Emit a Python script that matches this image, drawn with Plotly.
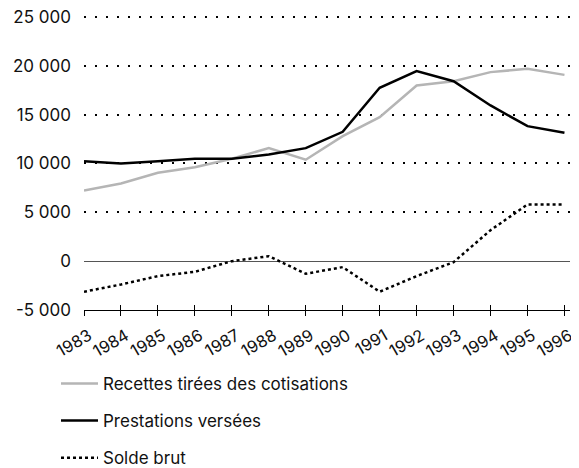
import plotly.graph_objects as go

years = list(range(1983, 1997))
recettes = [7240, 7950, 9050, 9620, 10480, 11570, 10380, 12800, 14740, 17980, 18420, 19350, 19690, 19070]
prestations = [10230, 10000, 10230, 10480, 10480, 10920, 11570, 13240, 17750, 19450, 18420, 15940, 13820, 13140]
solde = [-3130, -2390, -1530, -1090, 0, 510, -1290, -610, -3130, -1530, -100, 3170, 5800, 5800]

names = ["Recettes tirées des cotisations", "Prestations versées", "Solde brut"]
ytickvals = [-5000, 0, 5000, 10000, 15000, 20000, 25000]
yticktext = ["-5 000", "0", "5 000", "10 000", "15 000", "20 000", "25 000"]

FONT = "Inter, Roboto, sans-serif"

fig = go.Figure()
fig.add_trace(go.Scatter(x=years, y=recettes, name=names[0], mode="lines",
                         line=dict(color="#b5b5b5", width=2.5), legendgroup="a"))
fig.add_trace(go.Scatter(x=years, y=prestations, name=names[1], mode="lines",
                         line=dict(color="#000000", width=2.5), legendgroup="b"))
fig.add_trace(go.Scatter(x=years, y=solde, name=names[2], mode="lines",
                         line=dict(color="#000000", width=2.5, dash="dot"), legendgroup="c"))
# invisible trace for the inner tick marks axis
fig.add_trace(go.Scatter(x=years, y=solde, xaxis="x2", mode="lines",
                         line=dict(width=0), showlegend=False, hoverinfo="skip", opacity=0))

fig.update_layout(
    width=571, height=460,
    margin=dict(l=76, r=9, t=6, b=158, autoexpand=False),
    paper_bgcolor="white", plot_bgcolor="white",
    font=dict(family=FONT, size=15, color="#111111"),
    showlegend=True,
    legend=dict(orientation="v", x=-0.0576, xanchor="left", y=-0.189, yanchor="top",
                tracegroupgap=12, itemwidth=37, font=dict(size=17, family=FONT),
                bgcolor="rgba(0,0,0,0)"),
    xaxis=dict(range=[1983, 1996.15], tickvals=years, ticktext=[str(y) for y in years],
               tickangle=-30, ticks="outside", ticklen=5, tickcolor="black", tickwidth=1,
               showline=True, linecolor="black", linewidth=1, showgrid=False, zeroline=False,
               ticklabelshift=5, ticklabelstandoff=4,
               automargin=False, ticklabeloverflow="allow", tickfont=dict(size=16.5, family=FONT)),
    xaxis2=dict(range=[1983, 1996.15], overlaying="x", anchor="y", side="bottom",
                tickvals=years, ticks="inside", ticklen=5, tickcolor="black", tickwidth=1,
                showticklabels=False, showgrid=False, zeroline=False, showline=False,
                automargin=False),
    yaxis=dict(range=[-5000, 25300], tickvals=ytickvals, ticktext=yticktext,
               showgrid=True, gridcolor="black", gridwidth=1.6, griddash="2px,9px",
               zeroline=True, zerolinecolor="#555555", zerolinewidth=1,
               showline=False, ticks="", ticklabelstandoff=12, automargin=False,
               ticklabeloverflow="allow", tickfont=dict(size=17, family=FONT)),
)

fig.write_html("out.html")
